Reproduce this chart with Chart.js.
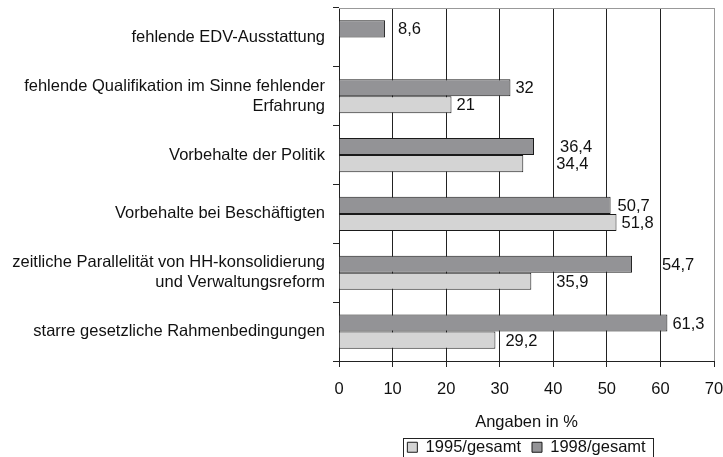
<!DOCTYPE html>
<html>
<head>
<meta charset="utf-8">
<script src="https://cdn.jsdelivr.net/npm/chart.js@4"></script>
<style>
  html, body { margin: 0; padding: 0; overflow: hidden; background: #fff; }
</style>
</head>
<body>
<canvas id="chart" width="723" height="470"></canvas>
<script>
const categories = [
  'fehlende EDV-Ausstattung',
  ['fehlende Qualifikation im Sinne fehlender', 'Erfahrung'],
  'Vorbehalte der Politik',
  'Vorbehalte bei Beschäftigten',
  ['zeitliche Parallelität von HH-konsolidierung', 'und Verwaltungsreform'],
  'starre gesetzliche Rahmenbedingungen'
];
const values1998 = [8.6, 32, 36.4, 50.7, 54.7, 61.3];
const values1995 = [null, 21, 34.4, 51.8, 35.9, 29.2];
const xTicks = [0, 10, 20, 30, 40, 50, 60, 70];

// how far each value label sits right of its bar end (moved by hand in the original)
const shift1998 = [13, 5, 26, 7, 30, 5];
const shift1995 = [0, 5, 33, 5, 25, 10];

const textColor = '#111';
const lineColor = '#222';
Chart.defaults.font.family = '"Liberation Sans", Arial, sans-serif';
Chart.defaults.font.size = 16.5;
Chart.defaults.color = textColor;

// value labels next to the bars, German decimal comma
const valueLabels = {
  id: 'valueLabels',
  afterDatasetsDraw(chart) {
    const ctx = chart.ctx;
    ctx.save();
    ctx.font = '16.5px "Liberation Sans", Arial, sans-serif';
    ctx.fillStyle = textColor;
    ctx.textAlign = 'left';
    ctx.textBaseline = 'middle';
    chart.data.datasets.forEach((ds, i) => {
      chart.getDatasetMeta(i).data.forEach((bar, j) => {
        const v = ds.data[j];
        if (v == null) return;
        ctx.fillText(String(v).replace('.', ','), bar.x + ds.labelShift[j], bar.y + 1);
      });
    });
    ctx.restore();
  }
};

// plot frame on top, legend centred under the plot with a box round it
const frame = {
  id: 'frame',
  afterLayout(chart) {
    const lg = chart.legend, a = chart.chartArea;
    const h = lg.bottom - lg.top;
    lg.left = a.left;
    lg.right = a.right;
    lg.width = a.right - a.left;
    lg.top = chart.scales.x.bottom - 3;
    lg.bottom = lg.top + h;
  },
  beforeDatasetsDraw(chart) {
    const ctx = chart.ctx, a = chart.chartArea;
    ctx.save();
    ctx.strokeStyle = '#999';
    ctx.lineWidth = 1;
    ctx.beginPath();
    ctx.moveTo(a.left, a.top + 0.5);
    ctx.lineTo(a.right, a.top + 0.5);
    ctx.stroke();
    ctx.restore();
  },
  afterDraw(chart) {
    const ctx = chart.ctx;
    const hb = chart.legend.legendHitBoxes;
    const last = hb[hb.length - 1];
    const l = Math.round(hb[0].left - 4), r = Math.round(last.left + last.width + 7);
    const t = Math.round(hb[0].top - 1);
    ctx.save();
    ctx.strokeStyle = lineColor;
    ctx.lineWidth = 1;
    ctx.strokeRect(l + 0.5, t + 0.5, r - l, 40);
    ctx.restore();
  }
};

new Chart(document.getElementById('chart'), {
  type: 'bar',
  data: {
    labels: categories,
    datasets: [{
      label: '1998/gesamt',
      data: values1998,
      labelShift: shift1998,
      backgroundColor: '#939396',
      borderColor: '#1a1a1a',
      borderWidth: 1,
      categoryPercentage: 0.58,
      barPercentage: 1
    }, {
      label: '1995/gesamt',
      data: values1995,
      labelShift: shift1995,
      backgroundColor: '#d4d4d4',
      borderColor: '#1a1a1a',
      borderWidth: 1,
      categoryPercentage: 0.58,
      barPercentage: 1
    }]
  },
  options: {
    indexAxis: 'y',
    responsive: false,
    animation: false,
    layout: { padding: { left: 0, right: 9, top: 8, bottom: 1.5 } },
    scales: {
      x: {
        min: 0,
        max: 70,
        afterBuildTicks: s => { s.ticks = xTicks.map(v => ({ value: v })); },
        grid: {
          color: c => (c.tick && c.tick.value === 70) ? '#999' : lineColor,
          tickColor: lineColor,
          tickLength: 6
        },
        border: { color: lineColor },
        ticks: { padding: 13 },
        title: {
          display: true,
          text: 'Angaben in %',
          font: { size: 16.5, lineHeight: 1 },
          padding: { top: 0, bottom: 0 }
        },
        afterFit: s => { s.height = 70; s.paddingLeft = 0; s.paddingRight = 0; }
      },
      y: {
        grid: { drawOnChartArea: false, tickLength: 6, color: lineColor, offset: true },
        border: { color: lineColor },
        ticks: { padding: 8 },
        afterFit: s => { s.width = 339; s.paddingTop = 0; s.paddingBottom = 0; }
      }
    },
    plugins: {
      legend: {
        position: 'bottom',
        reverse: true,
        labels: { boxWidth: 10, boxHeight: 10, padding: 11, color: textColor }
      },
      tooltip: { enabled: false }
    }
  },
  plugins: [valueLabels, frame]
});
</script>
</body>
</html>
